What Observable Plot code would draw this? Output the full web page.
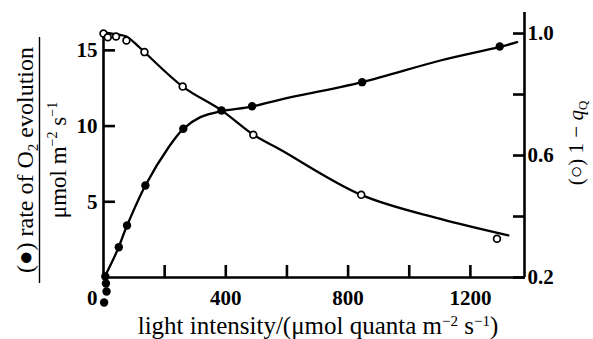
<!DOCTYPE html>
<html>
<head>
<meta charset="utf-8">
<script src="https://cdn.jsdelivr.net/npm/d3@7"></script>
<script src="https://cdn.jsdelivr.net/npm/@observablehq/plot@0.6"></script>
<style>
  html, body { margin: 0; padding: 0; background: #fff; }
  #chart { width: 593px; height: 339px; }
  #chart svg text { font-family: "Liberation Serif", "Times New Roman", serif; }
</style>
</head>
<body>
<div id="chart"></div>
<script>
// ---- data ----
// O2 evolution rate (filled circles, left axis, µmol m^-2 s^-1)
const o2Light = [2, 10, 8, 6, 50, 77, 137, 261, 386, 486, 846, 1296];
const o2Rate  = [-1.65, -0.92, -0.4, 0.07, 2.0, 3.43, 6.08, 9.82, 11.03, 11.31, 12.9, 15.25];
// hand-drawn fitted curve through O2 points
const o2CurveLight = [6, 45, 77, 137, 213, 261, 317, 383, 486, 579, 846, 1102, 1293, 1353];
const o2CurveRate  = [0.13, 1.78, 3.43, 6.08, 8.6, 9.82, 10.59, 10.98, 11.29, 11.75, 12.9, 14.33, 15.21, 15.54];
// 1 - qQ (open circles, right axis)
const qLight = [0, 14, 41, 75, 134, 259, 490, 843, 1287];
const qValue = [1.0, 0.988, 0.99, 0.977, 0.939, 0.826, 0.668, 0.471, 0.327];
// hand-drawn fitted curve through 1 - qQ points
const qCurveLight = [0, 39, 75, 101, 132, 259, 386, 490, 579, 843, 1102, 1324];
const qCurveValue = [1.004, 0.998, 0.99, 0.97, 0.941, 0.826, 0.748, 0.668, 0.619, 0.471, 0.392, 0.338];
// ticks
const xTicks = [200, 400, 600, 800, 1000, 1200];
const xTickLabels = [400, 800, 1200];
const leftTicks = [5, 10, 15];
const rightTicks = [0.2, 0.4, 0.6, 0.8, 1.0];
const rightTickLabels = [0.2, 0.6, 1.0];

// ---- scales ----
const xDomain = [0, 1377];
const yDomain = [0, 17.5];          // left-axis units
const leftAxisTop = 16.3;
// secondary (right) axis: 0.2 sits on the x axis, 1.0 level with left 16.11
const rightBase = 0.2, rightK = 20.14;
const toLeft = v => (v - rightBase) * rightK;
const fromLeft = y => y / rightK + rightBase;

const o2Pts = o2Light.map((x, i) => ({x, y: o2Rate[i]}));
const o2Curve = o2CurveLight.map((x, i) => ({x, y: o2CurveRate[i]}));
const qPts = qLight.map((x, i) => ({x, y: toLeft(qValue[i])}));
const qCurve = qCurveLight.map((x, i) => ({x, y: toLeft(qCurveValue[i])}));

const serif = "Liberation Serif, Times New Roman, serif";
const AX = 2.6;
const tickFont = {fontFamily: serif, fontSize: 21, fontWeight: "bold"};

const chart = Plot.plot({
  width: 593,
  height: 339,
  marginLeft: 103,
  marginRight: 69,
  marginTop: 12,
  marginBottom: 62,
  style: {fontFamily: serif, fontSize: "21px", background: "white", overflow: "visible", color: "black"},
  x: {domain: xDomain, axis: null},
  y: {domain: yDomain, axis: null},
  marks: [
    // axis lines
    Plot.ruleY([0], {x1: xDomain[0], x2: xDomain[1], strokeWidth: AX, stroke: "black"}),
    Plot.ruleX([xDomain[0]], {y1: 0, y2: leftAxisTop, strokeWidth: AX, stroke: "black"}),
    Plot.ruleX([xDomain[1]], {y1: 0, y2: yDomain[1], strokeWidth: AX, stroke: "black"}),
    // inward ticks
    Plot.axisX(xTicks, {anchor: "bottom", tickSize: 12, dy: -12, tickFormat: () => "", label: null, strokeWidth: AX}),
    Plot.axisY(leftTicks, {anchor: "left", tickSize: 12, dx: 12, tickFormat: () => "", label: null, strokeWidth: AX}),
    Plot.axisY(rightTicks.map(toLeft), {anchor: "right", tickSize: 12, dx: -12, tickFormat: () => "", label: null, strokeWidth: AX}),
    // tick labels
    Plot.axisX(xTickLabels, {anchor: "bottom", tickSize: 0, tickPadding: 13, label: null, ...tickFont, tickFormat: d => String(d)}),
    Plot.axisY(leftTicks, {anchor: "left", tickSize: 0, tickPadding: 6, label: null, ...tickFont, tickFormat: d => String(d)}),
    Plot.axisY(rightTickLabels.map(toLeft), {anchor: "right", tickSize: 0, tickPadding: 3, label: null, ...tickFont, tickFormat: d => fromLeft(d).toFixed(1)}),
    Plot.text([0], {x: 0, y: 0, text: () => "0", dx: -6, dy: 21, textAnchor: "end", ...tickFont}),
    // curves
    Plot.line(o2Curve, {x: "x", y: "y", curve: "catmull-rom", stroke: "black", strokeWidth: 2.3}),
    Plot.line(qCurve, {x: "x", y: "y", curve: "catmull-rom", stroke: "black", strokeWidth: 2.3}),
    // points
    Plot.dot(o2Pts, {x: "x", y: "y", r: 4.2, fill: "black", stroke: "none"}),
    Plot.dot(qPts, {x: "x", y: "y", r: 3.4, fill: "white", stroke: "black", strokeWidth: 1.7})
  ]
});

document.getElementById("chart").appendChild(chart);

// ---- axis titles (real text with sub/superscripts) ----
const svg = d3.select(chart);
const g = svg.append("g").attr("font-family", serif).attr("fill", "black");

// left title: fraction
const t1 = g.append("text").attr("transform", "translate(33,160) rotate(-90)")
  .attr("text-anchor", "middle").attr("font-size", 24);
t1.append("tspan").text("(\u25CF) rate of O");
t1.append("tspan").attr("dy", 5).attr("font-size", 15).text("2");
t1.append("tspan").attr("dy", -5).text(" evolution");

g.append("line").attr("x1", 39.5).attr("x2", 39.5).attr("y1", 37).attr("y2", 283)
  .attr("stroke", "black").attr("stroke-width", 1.4);

const t2 = g.append("text").attr("transform", "translate(66,160) rotate(-90)")
  .attr("text-anchor", "middle").attr("font-size", 23);
t2.append("tspan").text("\u03BCmol m");
t2.append("tspan").attr("dy", -9).attr("font-size", 14).text("\u22122");
t2.append("tspan").attr("dy", 9).text(" s");
t2.append("tspan").attr("dy", -9).attr("font-size", 14).text("\u22121");

// right title
const t3 = g.append("text").attr("transform", "translate(583,143) rotate(-90)")
  .attr("text-anchor", "middle").attr("font-size", 21);
t3.append("tspan").text("(\u25CB) 1 \u2212 ");
t3.append("tspan").attr("font-style", "italic").text("q");
t3.append("tspan").attr("dy", 4).attr("font-size", 13).text("Q");

// x title
const t4 = g.append("text").attr("transform", "translate(318,334)")
  .attr("text-anchor", "middle").attr("font-size", 25);
t4.append("tspan").text("light intensity/(\u03BCmol quanta m");
t4.append("tspan").attr("dy", -8).attr("font-size", 15).text("\u22122");
t4.append("tspan").attr("dy", 8).text(" s");
t4.append("tspan").attr("dy", -8).attr("font-size", 15).text("\u22121");
t4.append("tspan").attr("dy", 8).text(")");
</script>
</body>
</html>
